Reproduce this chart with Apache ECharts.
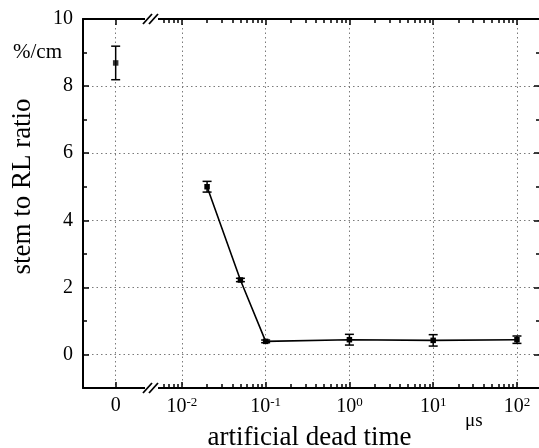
<!DOCTYPE html>
<html>
<head>
<meta charset="utf-8">
<script src="https://cdn.jsdelivr.net/npm/echarts@6/dist/echarts.min.js"></script>
<style>
  html, body { margin: 0; padding: 0; background: #fff; }
  #chart { width: 539px; height: 448px; }
</style>
</head>
<body>
<div id="chart"></div>
<script>
// dead time in us, the 0 point sits left of the axis break
var deadTimes = [0.02, 0.05, 0.1, 1, 10, 100]
var ratios = [5.0, 2.22, 0.39, 0.44, 0.42, 0.44]
var ratioErrors = [0.16, 0.05, 0.04, 0.16, 0.17, 0.11]
var zeroRatio = [8.69]
var zeroError = [0.5]
var xMajorExponents = [-2, -1, 0, 1, 2]
var xMinorMantissas = [2, 3, 4, 5, 6, 7, 8, 9]
var yMajorTicks = [0, 2, 4, 6, 8, 10]
var yMinorTicks = [-1, 1, 3, 5, 7, 9]
var yUnitTick = 9

var ZERO_POS = -2.79 // axis position (in decades) used for t = 0
var BREAK_END = -2.29
var X_MIN = -3.18
var X_MAX = 2.275
var FONT = 'Liberation Serif'

var xMajor = [ZERO_POS].concat(xMajorExponents)
var xMinor = []
for (var d = -3; d <= 2; d++) {
  xMinorMantissas.forEach(function(m) {
    var p = Math.log10(m) + d
    if (p > BREAK_END && p < X_MAX) xMinor.push(p)
  })
}

var linePoints = deadTimes.map(function(t, i) { return [Math.log10(t), ratios[i]] })
var errBars = deadTimes.map(function(t, i) {
  return [Math.log10(t), ratios[i] - ratioErrors[i], ratios[i] + ratioErrors[i]]
})
errBars.push([ZERO_POS, zeroRatio[0] - zeroError[0], zeroRatio[0] + zeroError[0]])

var axisLine = { show: true, onZero: false, lineStyle: { color: '#000', width: 2 } }
var noLine = { show: false, onZero: false }
var gridLine = { show: true, lineStyle: { color: '#7a7a7a', width: 1, type: [1.5, 3] } }

function xAxis(gridIndex, position, ticks, len, labels) {
  return {
    type: 'value', gridIndex: gridIndex, position: position,
    min: X_MIN, max: X_MAX,
    axisLine: gridIndex === 0 ? axisLine : noLine,
    axisTick: { show: true, inside: true, length: len, customValues: ticks, lineStyle: { color: '#000', width: 1.5 } },
    axisLabel: labels ? {
      show: true, customValues: xMajor, margin: 8,
      color: '#000', fontFamily: FONT, fontSize: 20,
      formatter: function(v) {
        if (Math.abs(v - ZERO_POS) < 1e-6) return '0'
        return '10{sup|' + Math.round(v) + '}'
      },
      rich: { sup: { fontFamily: FONT, fontSize: 13, verticalAlign: 'top', padding: [0, 0, 9, 0], color: '#000' } }
    } : { show: false },
    splitLine: labels ? gridLine : { show: false }
  }
}

function yAxis(gridIndex, position, ticks, len, labels) {
  return {
    type: 'value', gridIndex: gridIndex, position: position,
    min: -1, max: 10,
    axisLine: gridIndex === 0 ? axisLine : noLine,
    axisTick: { show: true, inside: true, length: len, customValues: ticks, lineStyle: { color: '#000', width: 1.5 } },
    axisLabel: labels ? {
      show: true, customValues: yMajorTicks.concat([yUnitTick]), margin: 10,
      color: '#000', fontFamily: FONT, fontSize: 20,
      formatter: function(v) { return v === yUnitTick ? '{u|%/cm}' : String(v) },
      rich: { u: { fontFamily: FONT, fontSize: 21, color: '#000', padding: [0, 11, 0, 0] } }
    } : { show: false },
    splitLine: labels ? gridLine : { show: false },
    name: labels ? 'stem to RL ratio' : '',
    nameLocation: 'middle', nameGap: 47, nameRotate: 90, nameMoveOverlap: false,
    nameTextStyle: { fontFamily: FONT, fontSize: 27, color: '#000', padding: [0, 0, 0, 34] }
  }
}

var chart = echarts.init(document.getElementById('chart'))
var gridRect = { left: 83, top: 19, width: 457, height: 369, containLabel: false, outerBoundsMode: 'none' }

var xAxes = [
  xAxis(0, 'bottom', xMajor, 6, true),
  xAxis(0, 'top', xMajor, 6, false),
  xAxis(1, 'bottom', xMinor, 4, false),
  xAxis(1, 'top', xMinor, 4, false)
]
xAxes[0].name = 'artificial dead time'
xAxes[0].nameLocation = 'middle'
xAxes[0].nameGap = 36
xAxes[0].nameMoveOverlap = false
xAxes[0].nameTextStyle = { fontFamily: FONT, fontSize: 27, color: '#000', padding: [0, 4, 0, 0] }

var breakStyle = { stroke: '#000', lineWidth: 1.8 }
function breakMark(y) {
  return [
    { type: 'rect', shape: { x: 145, y: y - 4, width: 13, height: 8 }, style: { fill: '#fff' }, z: 100 },
    { type: 'line', shape: { x1: 143, y1: y + 5, x2: 152, y2: y - 5 }, style: breakStyle, z: 101 },
    { type: 'line', shape: { x1: 149, y1: y + 5, x2: 158, y2: y - 5 }, style: breakStyle, z: 101 }
  ]
}

chart.setOption({
  animation: false,
  backgroundColor: '#fff',
  grid: [
    Object.assign({}, gridRect),
    Object.assign({}, gridRect)
  ],
  xAxis: xAxes,
  yAxis: [
    yAxis(0, 'left', yMajorTicks, 6, true),
    yAxis(0, 'right', yMajorTicks, 6, false),
    yAxis(1, 'left', yMinorTicks, 4, false),
    yAxis(1, 'right', yMinorTicks, 4, false)
  ],
  graphic: breakMark(388).concat(breakMark(19)).concat([
    { type: 'text', left: 465, top: 412, style: { text: 'μs', fontFamily: FONT, fontSize: 19, fill: '#000' }, z: 101 }
  ]),
  series: [
    {
      type: 'line', xAxisIndex: 0, yAxisIndex: 0,
      data: linePoints,
      symbol: 'rect', symbolSize: 5.5,
      itemStyle: { color: '#000' },
      lineStyle: { color: '#000', width: 1.6 },
      z: 3
    },
    {
      type: 'scatter', xAxisIndex: 0, yAxisIndex: 0,
      data: [[ZERO_POS, zeroRatio[0]]],
      symbol: 'rect', symbolSize: 5.5,
      itemStyle: { color: '#000' },
      z: 3
    },
    {
      type: 'custom', xAxisIndex: 0, yAxisIndex: 0,
      data: errBars,
      encode: { x: 0, y: [1, 2] },
      renderItem: function(params, api) {
        var top = api.coord([api.value(0), api.value(2)])
        var bot = api.coord([api.value(0), api.value(1)])
        var w = 4.5
        var style = { stroke: '#000', lineWidth: 1.5 }
        return {
          type: 'group',
          children: [
            { type: 'line', shape: { x1: top[0], y1: top[1], x2: bot[0], y2: bot[1] }, style: style },
            { type: 'line', shape: { x1: top[0] - w, y1: top[1], x2: top[0] + w, y2: top[1] }, style: style },
            { type: 'line', shape: { x1: bot[0] - w, y1: bot[1], x2: bot[0] + w, y2: bot[1] }, style: style }
          ]
        }
      },
      z: 4
    }
  ]
})
</script>
</body>
</html>
